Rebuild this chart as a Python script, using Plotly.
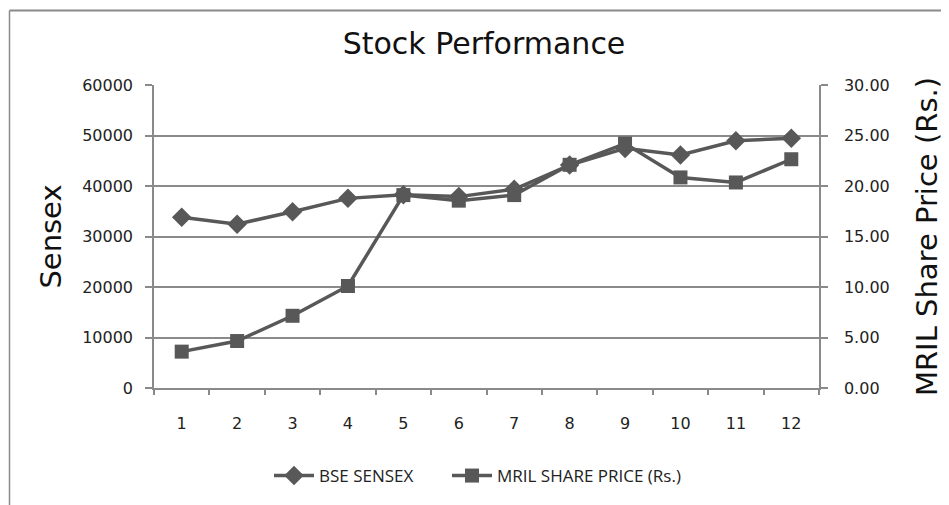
import plotly.graph_objects as go

months = ["1", "2", "3", "4", "5", "6", "7", "8", "9", "10", "11", "12"]
bse_sensex = [33800, 32450, 34900, 37550, 38250, 37900, 39350, 44150, 47450, 46150, 48950, 49450]
mril_price = [3.60, 4.65, 7.15, 10.10, 19.10, 18.55, 19.10, 22.10, 24.20, 20.85, 20.35, 22.65]

# page body has an 8px margin, so figure coordinates are shifted by that much
OFF = 8
W, H = 949, 505
L, R, T, B = 154 - OFF, 819 - OFF, 85 - OFF, 388 - OFF
pw, ph = R - L, B - T

line_col = "#585858"
grid_col = "#8a8a8a"
font_fam = "DejaVu Sans"
tick_font = dict(family=font_fam, size=16, color="#222222")
legend_font = dict(family="Open Sans", size=17, color="#222222")

fig = go.Figure()
fig.add_trace(go.Scatter(
    x=months, y=bse_sensex, name="BSE SENSEX", mode="lines+markers",
    line=dict(color=line_col, width=3.5),
    marker=dict(symbol="diamond", size=15, color=line_col),
    yaxis="y", legend="legend"))
fig.add_trace(go.Scatter(
    x=months, y=mril_price, name="MRIL SHARE PRICE (Rs.)", mode="lines+markers",
    line=dict(color=line_col, width=3.5),
    marker=dict(symbol="square", size=14, color=line_col),
    yaxis="y2", legend="legend2"))

leg_y = (B - (476 - OFF)) / ph

fig.update_layout(
    width=W, height=H,
    margin=dict(l=L, r=W - R, t=T, b=H - B, autoexpand=False),
    paper_bgcolor="white", plot_bgcolor="white",
    showlegend=True,
    title=dict(text="Stock Performance", x=(343 + 625) / 2 / W - OFF / W, xanchor="center",
               y=1 - (43 - OFF) / H, yanchor="middle",
               font=dict(family=font_fam, size=30, color="#111111")),
    xaxis=dict(type="category", tickson="boundaries", ticks="outside", ticklen=5,
               tickcolor=grid_col, tickwidth=1.5, showgrid=False, automargin=False,
               showline=True, linecolor=grid_col, linewidth=1.5,
               tickfont=tick_font, ticklabelstandoff=20,
               range=[-0.5, 11.5]),
    yaxis=dict(range=[0, 60000], dtick=10000, tickformat="d", automargin=False,
               showgrid=True, gridcolor=grid_col, gridwidth=1.5,
               showline=True, linecolor=grid_col, linewidth=1.5,
               ticks="outside", ticklen=7, tickcolor=grid_col, tickwidth=1.5,
               zeroline=False, tickfont=tick_font, ticklabelstandoff=9,
               title=dict(text="Sensex", font=dict(family=font_fam, size=29, color="#111111"),
                          standoff=12)),
    yaxis2=dict(range=[0, 30], dtick=5, tickformat=".2f", overlaying="y", side="right",
                showgrid=False, showline=True, linecolor=grid_col, linewidth=1.5, automargin=False,
                ticks="outside", ticklen=7, tickcolor=grid_col, tickwidth=1.5,
                zeroline=False, tickfont=tick_font, ticklabelstandoff=13,
                title=dict(text="MRIL Share Price (Rs.)",
                           font=dict(family=font_fam, size=29, color="#111111"),
                           standoff=28)),
    legend=dict(orientation="h", x=(269 - OFF - L) / pw, xanchor="left",
                y=leg_y, yanchor="middle", font=legend_font,
                itemwidth=40, bgcolor="rgba(0,0,0,0)"),
    legend2=dict(orientation="h", x=(447 - OFF - L) / pw, xanchor="left",
                 y=leg_y, yanchor="middle", font=legend_font,
                 itemwidth=40, bgcolor="rgba(0,0,0,0)"),
)

# outer chart border: top and left edges
bx0 = (1.5 - L) / pw
bx1 = (W - L) / pw
by_top = (B - 2.5) / ph
by_bot = (B - H) / ph
fig.add_shape(type="line", xref="paper", yref="paper", x0=bx0, x1=bx1, y0=by_top, y1=by_top,
              line=dict(color="#8a8a8a", width=2), layer="above")
fig.add_shape(type="line", xref="paper", yref="paper", x0=bx0, x1=bx0, y0=by_top, y1=by_bot,
              line=dict(color="#8a8a8a", width=1.5), layer="above")

fig.write_html("out.html")
